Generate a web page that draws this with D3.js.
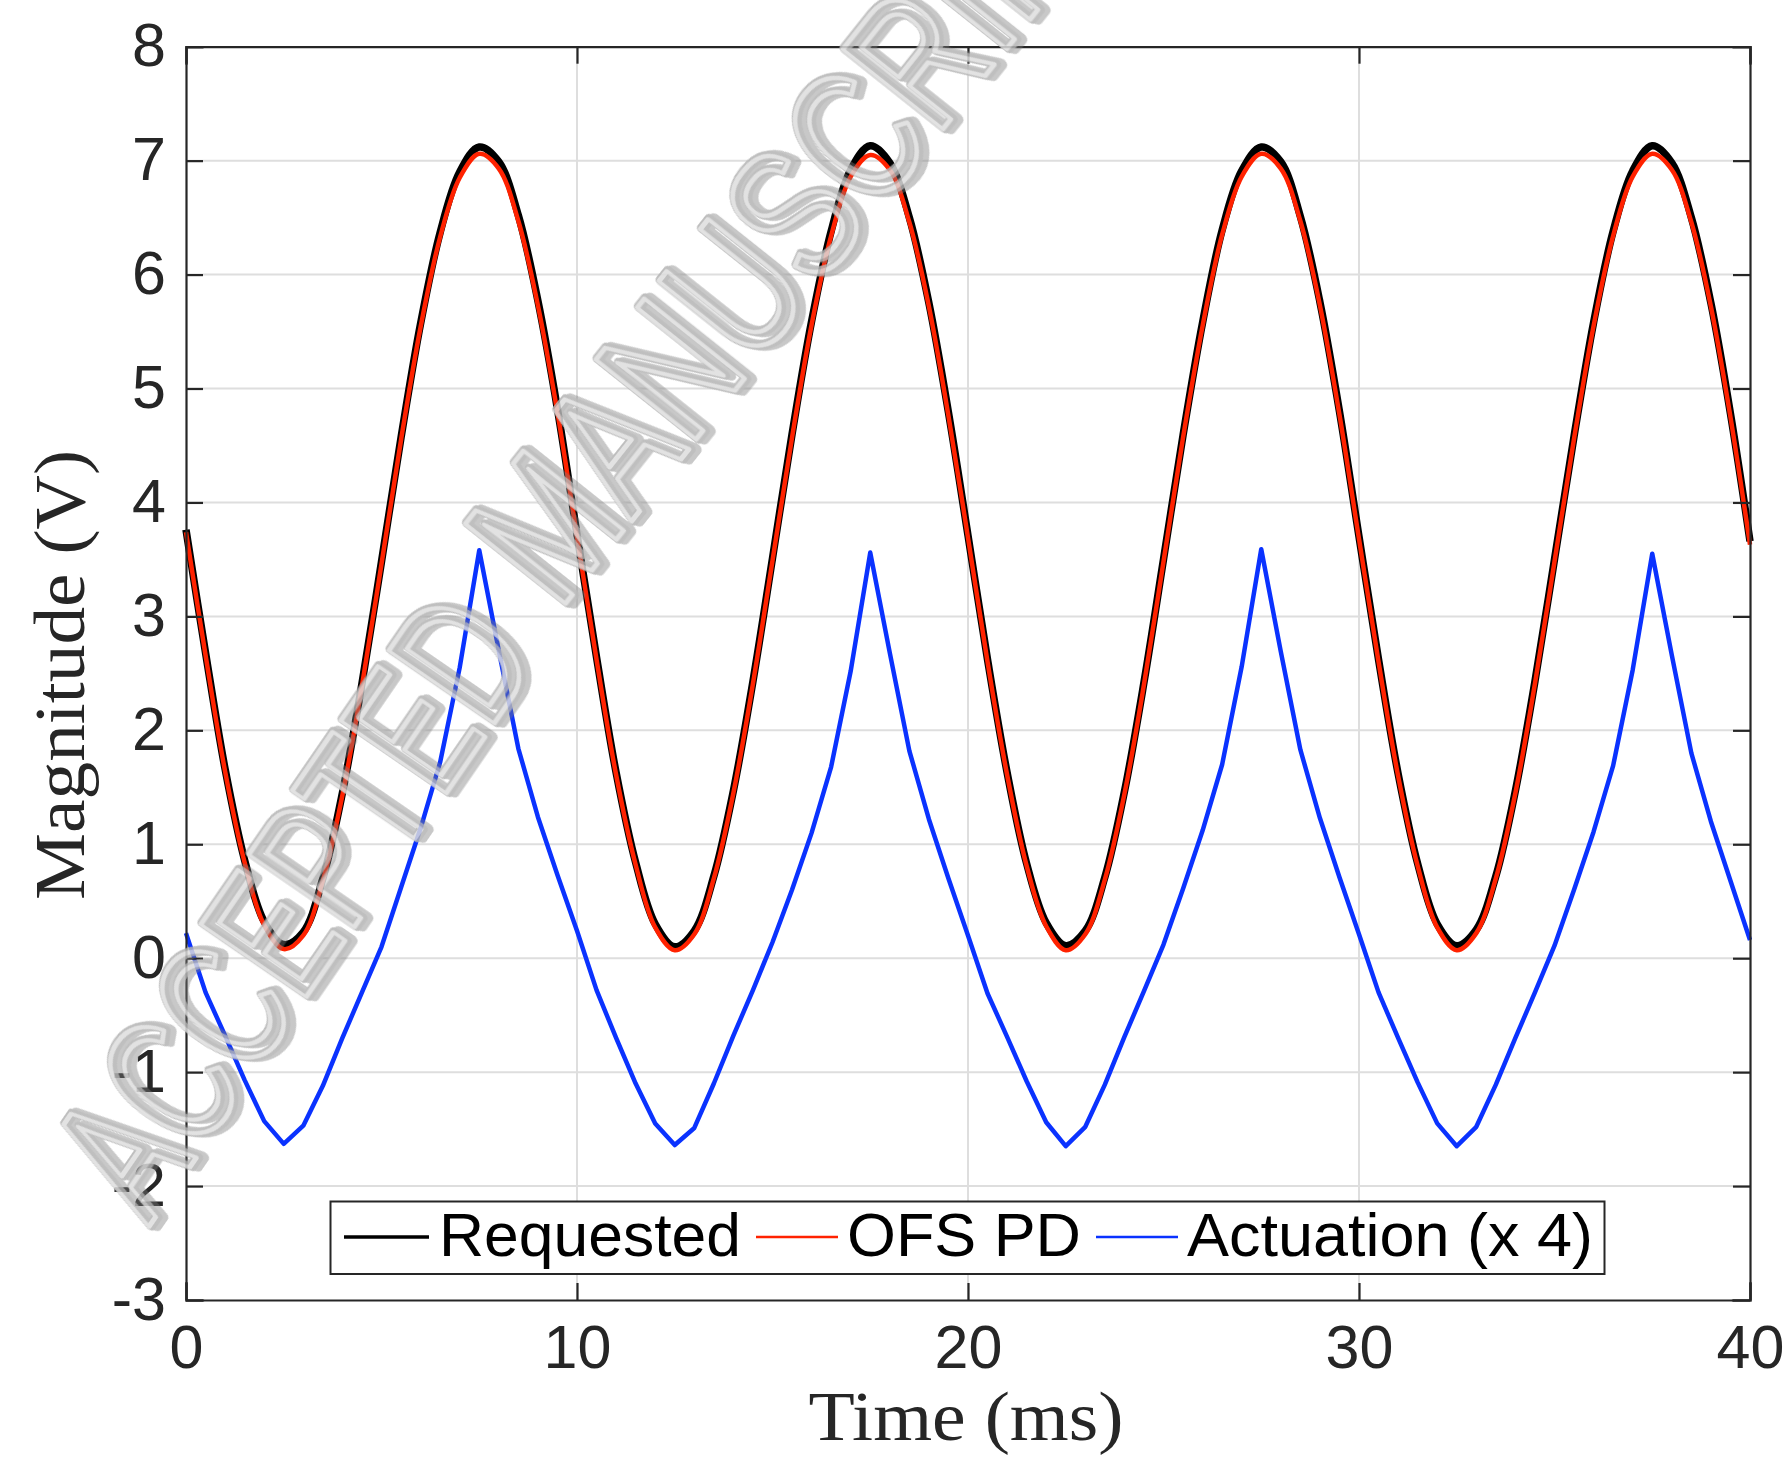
<!DOCTYPE html>
<html>
<head>
<meta charset="utf-8">
<script src="https://cdn.jsdelivr.net/npm/d3@7"></script>
<style>
  html, body { margin: 0; padding: 0; background: #ffffff; }
  svg { display: block; }
</style>
</head>
<body>
<svg id="chart" width="1788" height="1461"></svg>
<script>
// ---------------- data ----------------
const xTicks = [0, 10, 20, 30, 40];
const yTicks = [-3, -2, -1, 0, 1, 2, 3, 4, 5, 6, 7, 8];
const sampleStepMs = 0.5;

const requested = [
  3.76, 2.68, 1.66, 0.86, 0.32, 0.12, 0.23, 0.70, 1.45, 2.41, 3.48, 4.57, 5.57, 6.37, 6.90, 7.12, 6.99, 6.52, 5.77, 4.82,
  3.72, 2.64, 1.63, 0.84, 0.30, 0.10, 0.24, 0.72, 1.47, 2.43, 3.51, 4.60, 5.59, 6.38, 6.92, 7.13, 6.98, 6.50, 5.75, 4.79,
  3.71, 2.62, 1.63, 0.83, 0.31, 0.11, 0.24, 0.71, 1.46, 2.42, 3.50, 4.59, 5.58, 6.39, 6.91, 7.12, 6.99, 6.51, 5.76, 4.80,
  3.70, 2.62, 1.62, 0.83, 0.30, 0.11, 0.25, 0.72, 1.47, 2.43, 3.50, 4.58, 5.58, 6.38, 6.91, 7.13, 6.98, 6.50, 5.75, 4.78,
  3.66
];
const ofsPD = [
  3.74, 2.66, 1.64, 0.84, 0.29, 0.08, 0.20, 0.68, 1.43, 2.39, 3.46, 4.55, 5.54, 6.33, 6.85, 7.06, 6.93, 6.47, 5.73, 4.79,
  3.70, 2.62, 1.61, 0.82, 0.27, 0.07, 0.21, 0.70, 1.45, 2.41, 3.49, 4.57, 5.56, 6.34, 6.86, 7.05, 6.92, 6.46, 5.72, 4.76,
  3.69, 2.60, 1.61, 0.81, 0.28, 0.07, 0.21, 0.69, 1.44, 2.40, 3.48, 4.57, 5.55, 6.35, 6.86, 7.06, 6.93, 6.47, 5.73, 4.77,
  3.68, 2.60, 1.60, 0.81, 0.27, 0.07, 0.22, 0.70, 1.45, 2.41, 3.48, 4.56, 5.55, 6.34, 6.86, 7.06, 6.92, 6.46, 5.72, 4.75,
  3.63
];
const actuationX4 = [
  0.22, -0.30, -0.68, -1.07, -1.43, -1.63, -1.47, -1.12, -0.70, -0.30, 0.10, 0.62, 1.14, 1.72, 2.55, 3.58, 2.70, 1.84, 1.24, 0.73,
  0.24, -0.28, -0.70, -1.10, -1.45, -1.64, -1.49, -1.10, -0.68, -0.28, 0.14, 0.60, 1.10, 1.68, 2.52, 3.56, 2.68, 1.82, 1.22, 0.70,
  0.20, -0.31, -0.69, -1.08, -1.44, -1.65, -1.48, -1.11, -0.69, -0.29, 0.12, 0.61, 1.12, 1.70, 2.56, 3.59, 2.69, 1.83, 1.23, 0.71,
  0.21, -0.30, -0.70, -1.09, -1.45, -1.65, -1.48, -1.11, -0.70, -0.30, 0.11, 0.60, 1.11, 1.69, 2.53, 3.55, 2.66, 1.80, 1.20, 0.68,
  0.16
];
const seriesNames = ["Requested", "OFS PD", "Actuation (x 4)"];
const xLabel = "Time (ms)";
const yLabel = "Magnitude (V)";
const watermarkWords = ["ACCEPTED", "MANUSCRIPT"];

// ---------------- layout ----------------
const svg = d3.select("#chart");
const L = 186, R = 1750, T = 46.7, B = 1300;
const x = d3.scaleLinear().domain([0, 40]).range([L, R]);
const y = d3.scaleLinear().domain([-3, 8]).range([B, T]);
const axisColor = "#262626";
const tickFont = "'Liberation Sans', Arial, Helvetica, sans-serif";
const serifFont = "'Liberation Serif', 'Times New Roman', serif";
const hyphenFmt = d => String(d); // plain ASCII hyphen for negatives, as in the reference

svg.append("rect").attr("width", 1788).attr("height", 1461).attr("fill", "#fff");

// grid
const grid = svg.append("g");
grid.selectAll(".gx").data(xTicks.slice(1, -1)).enter().append("line")
  .attr("x1", d => x(d)).attr("x2", d => x(d)).attr("y1", T).attr("y2", B)
  .attr("stroke", "#dedede").attr("stroke-width", 2);
grid.selectAll(".gy").data(yTicks.slice(1, -1)).enter().append("line")
  .attr("y1", d => y(d)).attr("y2", d => y(d)).attr("x1", L).attr("x2", R)
  .attr("stroke", "#dedede").attr("stroke-width", 2);

// series
const toPts = arr => arr.map((v, i) => [i * sampleStepMs, v]);
const smooth = d3.line().x(d => x(d[0])).y(d => y(d[1])).curve(d3.curveCatmullRom);
const straight = d3.line().x(d => x(d[0])).y(d => y(d[1]));
const plot = svg.append("g");
plot.append("path").attr("d", straight(toPts(actuationX4)))
  .attr("fill", "none").attr("stroke", "#0a32ff").attr("stroke-width", 4.5).attr("stroke-linejoin", "round");
plot.append("path").attr("d", smooth(toPts(requested)))
  .attr("fill", "none").attr("stroke", "#000").attr("stroke-width", 7.5).attr("stroke-linejoin", "round");
plot.append("path").attr("d", smooth(toPts(ofsPD)))
  .attr("fill", "none").attr("stroke", "#ff2200").attr("stroke-width", 4.5).attr("stroke-linejoin", "round");

// axes (box with inward ticks on all sides)
const tickLen = 17;
const axB = d3.axisBottom(x).tickValues(xTicks).tickSize(-tickLen).tickPadding(24).tickFormat(hyphenFmt);
const axT = d3.axisTop(x).tickValues(xTicks).tickSize(-tickLen).tickFormat("");
const axLft = d3.axisLeft(y).tickValues(yTicks).tickSize(-tickLen).tickPadding(20).tickFormat(hyphenFmt);
const axRgt = d3.axisRight(y).tickValues(yTicks).tickSize(-tickLen).tickFormat("");
function styleAxis(g) {
  g.select(".domain").attr("stroke", axisColor).attr("stroke-width", 2.2);
  g.selectAll(".tick line").attr("stroke", axisColor).attr("stroke-width", 2.2);
  g.selectAll(".tick text").attr("fill", axisColor).style("font-family", tickFont).style("font-size", "61px");
}
svg.append("g").attr("transform", `translate(0,${B})`).call(axB).call(styleAxis)
  .selectAll(".tick text").attr("dy", "0").attr("y", 68);
svg.append("g").attr("transform", `translate(0,${T})`).call(axT).call(styleAxis);
svg.append("g").attr("transform", `translate(${L},0)`).call(axLft).call(styleAxis)
  .selectAll(".tick text").attr("dy", "0").attr("y", 19).attr("x", -20);
svg.append("g").attr("transform", `translate(${R},0)`).call(axRgt).call(styleAxis);
svg.selectAll(".domain").attr("stroke-linecap", "square");

// axis labels
svg.append("text").text(xLabel)
  .attr("x", 966).attr("y", 1440).attr("text-anchor", "middle")
  .attr("textLength", 315).attr("lengthAdjust", "spacingAndGlyphs")
  .style("font-family", serifFont).style("font-size", "70px").attr("fill", axisColor);
svg.append("text").text(yLabel)
  .attr("transform", "translate(84,675) rotate(-90)").attr("text-anchor", "middle")
  .attr("textLength", 450).attr("lengthAdjust", "spacingAndGlyphs")
  .style("font-family", serifFont).style("font-size", "72px").attr("fill", axisColor);

// legend
const leg = svg.append("g");
leg.append("rect").attr("x", 330.5).attr("y", 1201.5).attr("width", 1274).attr("height", 72.5)
  .attr("fill", "#fff").attr("stroke", axisColor).attr("stroke-width", 2);
const legItems = [
  { name: seriesNames[0], color: "#000", w: 3.5, x0: 344, x1: 429, tx: 439, tl: 302 },
  { name: seriesNames[1], color: "#ff2200", w: 2.5, x0: 756, x1: 838, tx: 847, tl: 234 },
  { name: seriesNames[2], color: "#0a32ff", w: 2.5, x0: 1096, x1: 1178, tx: 1187, tl: 406 }
];
legItems.forEach(it => {
  leg.append("line").attr("x1", it.x0).attr("x2", it.x1).attr("y1", 1237).attr("y2", 1237)
    .attr("stroke", it.color).attr("stroke-width", it.w);
  leg.append("text").text(it.name).attr("x", it.tx).attr("y", 1256)
    .attr("textLength", it.tl).attr("lengthAdjust", "spacingAndGlyphs")
    .style("font-family", tickFont).style("font-size", "61px").attr("fill", "#000");
});

// watermark (3D-looking outlined text, running off the top like the reference)
const wmPlacement = [
  { word: watermarkWords[0], tx: 150, ty: 1226, rot: -55.5, len: 692 },
  { word: watermarkWords[1], tx: 560, ty: 612, rot: -51.5, len: 925 }
];
const wmLayers = [
  { dx: 3, dy: 4, stroke: "#7f7f7f", w: 13, op: 0.5 },
  { dx: 0, dy: 0, stroke: "#b4b4b4", w: 11, op: 1 },
  { dx: -1.5, dy: -1.5, stroke: "#dddddd", w: 5, op: 1 }
];
const wmGroup = svg.append("g").attr("opacity", 0.85);
wmPlacement.forEach(p => {
  const g = wmGroup.append("g").attr("transform", `translate(${p.tx},${p.ty}) rotate(${p.rot})`);
  wmLayers.forEach(l => {
    g.append("text").text(p.word)
      .attr("x", l.dx).attr("y", l.dy)
      .attr("textLength", p.len).attr("lengthAdjust", "spacingAndGlyphs")
      .style("font-family", tickFont).style("font-size", "185px")
      .attr("fill", "none").attr("stroke", l.stroke).attr("stroke-width", l.w)
      .attr("stroke-linejoin", "round").attr("opacity", l.op);
  });
});
</script>
</body>
</html>
